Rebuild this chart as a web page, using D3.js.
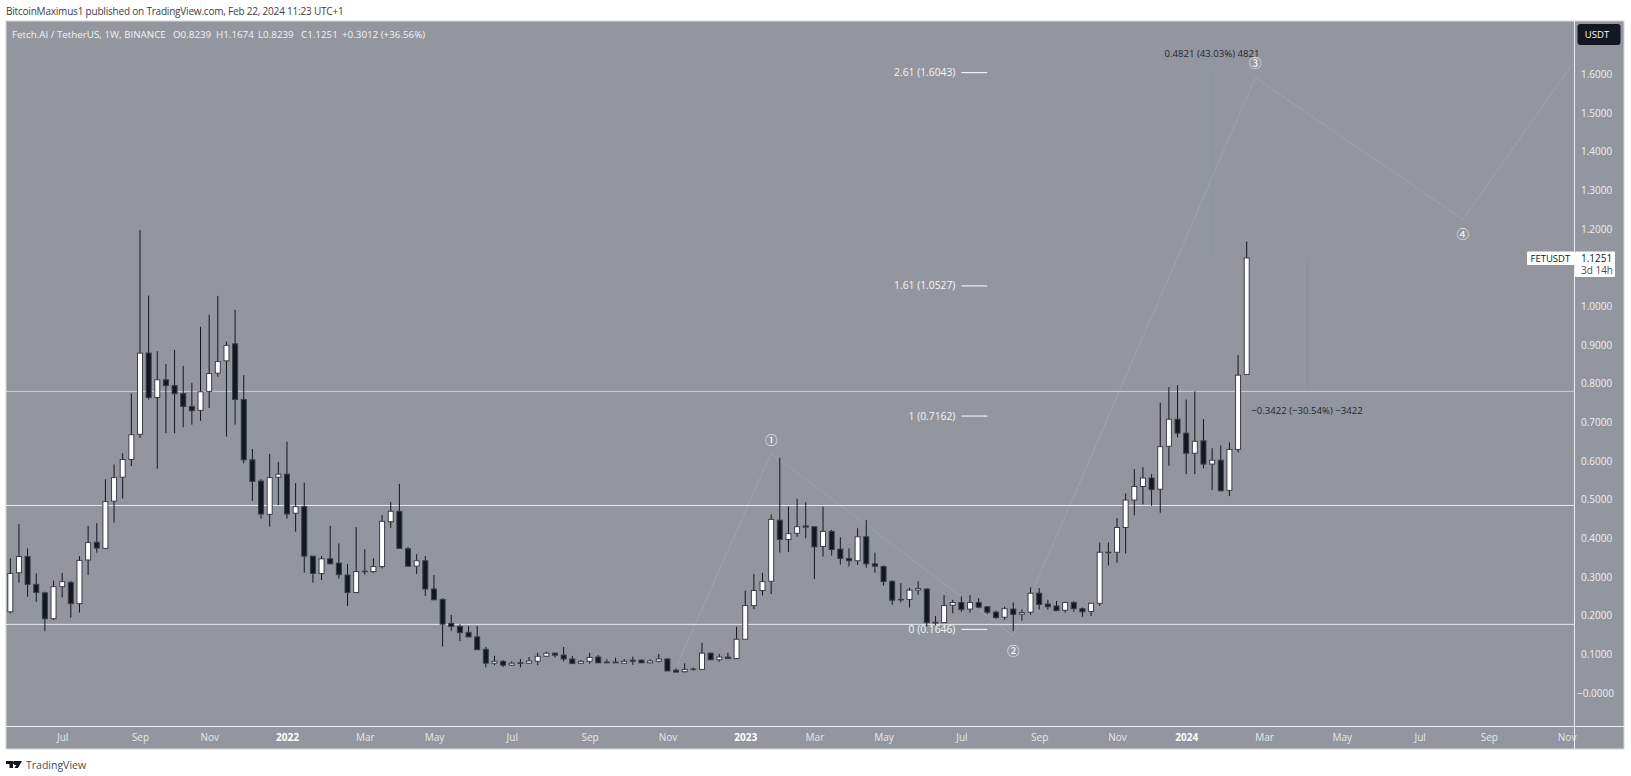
<!DOCTYPE html>
<html>
<head>
<meta charset="utf-8">
<title>FETUSDT</title>
<script src="https://cdn.jsdelivr.net/npm/d3@7"></script>
<style>
  html, body { margin: 0; padding: 0; background: #fff; overflow: hidden; }
  svg { display: block; font-family: "Open Sans", Roboto, sans-serif; }
</style>
</head>
<body>
<svg id="chart" width="1631" height="776"></svg>
<script>
// weekly candles
var opens = [.210,.311,.353,.281,.259,.192,.275,.286,.231,.344,.390,.374,.496,.558,.604,.669,.879,.764,.810,.795,.774,.741,.731,.780,.827,.859,.903,.759,.603,.548,.462,.558,.566,.465,
  .482,.354,.309,.347,.336,.305,.260,.315,.314,.327,.443,.470,.373,.328,.342,.269,.242,.180,.172,.157,.145,.113,.077,.082,.072,.078,.077,.082,.095,.103,.098,.088,.077,.082,.093,.080,.080,.077,.085,.085,.078,.082,.088,.059,.055,.061,.061,.103,.086,.093,.089,
  .139,.226,.265,.289,.447,.397,.413,.432,.430,.379,.418,.372,.348,.342,.404,.334,.327,.289,.242,.242,.266,.269,.181,.182,.227,.234,.217,.234,.223,.209,.196,.217,.204,.209,.258,.230,.225,.214,.234,.218,.211,.232,.364,
  .364,.428,.499,.534,.556,.527,.638,.708,.672,.620,.652,.592,.602,.524,.630,.8239];
var highs = [.348,.437,.374,.309,.262,.291,.311,.290,.354,.432,.439,.553,.591,.620,.775,1.197,1.028,.884,.851,.887,.846,.802,.947,.978,1.027,.909,.991,.822,.631,.553,.618,.597,.650,.543,
  .544,.354,.354,.432,.387,.334,.429,.372,.348,.460,.494,.541,.378,.359,.354,.305,.245,.202,.178,.173,.173,.119,.096,.085,.082,.088,.093,.104,.107,.105,.119,.096,.085,.104,.098,.087,.091,.088,.094,.087,.087,.101,.090,.064,.077,.066,.130,.105,.101,.104,.171,
  .265,.307,.311,.462,.608,.482,.502,.493,.430,.482,.422,.403,.374,.426,.447,.363,.330,.291,.284,.272,.289,.271,.199,.253,.241,.250,.253,.245,.225,.213,.223,.234,.216,.273,.271,.241,.238,.236,.238,.221,.232,.389,.389,
  .452,.516,.579,.584,.566,.751,.791,.796,.759,.780,.708,.633,.640,.648,.874,1.1674];
var lows = [.206,.285,.249,.236,.160,.189,.247,.195,.208,.305,.363,.372,.441,.503,.587,.660,.759,.580,.672,.672,.687,.694,.704,.737,.818,.663,.694,.594,.497,.451,.430,.486,.451,.417,
  .311,.285,.292,.334,.296,.225,.260,.306,.311,.322,.427,.374,.328,.308,.251,.241,.120,.161,.134,.145,.112,.066,.072,.067,.070,.066,.075,.072,.093,.092,.082,.076,.075,.076,.078,.078,.078,.077,.073,.078,.078,.079,.057,.054,.053,.058,.061,.086,.081,.089,.089,
  .139,.217,.252,.256,.363,.365,.404,.400,.295,.353,.355,.332,.327,.331,.324,.311,.278,.228,.234,.221,.254,.172,.176,.182,.206,.210,.208,.219,.204,.192,.189,.160,.187,.202,.216,.216,.213,.208,.210,.197,.199,.225,.330,
  .337,.361,.459,.488,.484,.466,.588,.661,.566,.566,.581,.525,.521,.509,.622,.8239];
var closes = [.309,.353,.281,.260,.192,.275,.288,.231,.343,.389,.375,.495,.557,.604,.668,.879,.764,.810,.795,.774,.741,.730,.779,.826,.857,.899,.759,.603,.547,.463,.557,.566,.463,.482,
  .354,.309,.347,.334,.306,.260,.314,.314,.327,.444,.470,.374,.328,.342,.269,.241,.178,.172,.156,.145,.112,.077,.082,.072,.077,.077,.083,.095,.103,.098,.088,.076,.082,.092,.078,.078,.078,.082,.082,.078,.083,.088,.057,.054,.061,.062,.103,.086,.093,.089,.139,
  .226,.265,.288,.449,.397,.412,.430,.429,.378,.418,.371,.348,.342,.404,.334,.328,.288,.240,.241,.266,.270,.182,.183,.226,.234,.216,.234,.222,.209,.195,.218,.203,.208,.258,.229,.223,.213,.234,.218,.210,.232,.364,.364,
  .428,.499,.534,.556,.526,.637,.708,.672,.620,.651,.592,.602,.523,.630,.822,1.1251];

var priceTicks = [1.6,1.5,1.4,1.3,1.2,1.0,.9,.8,.7,.6,.5,.4,.3,.2,.1,0];
var timeTickIdx = [6,15,23,32,41,49,58,67,76,85,93,101,110,119,128,136,145,154,163,171,180];
var timeTickLabels = ["Jul","Sep","Nov","2022","Mar","May","Jul","Sep","Nov","2023","Mar","May","Jul","Sep","Nov","2024","Mar","May","Jul","Sep","Nov"];

var hLevels = [.780,.485,.1775];
var fibLevels = [2.61,1.61,1,0];
var fibPrices = [1.6043,1.0527,.7162,.1646];
var waveIdx = [77.1,88,116,144,168,181];
var wavePrices = [.071,.620,.148,1.591,1.225,1.637];
var waveMarks = ["①","②","③","④"];

var legendParts = ["Fetch.AI / TetherUS, 1W, BINANCE","O0.8239","H1.1674","L0.8239","C1.1251","+0.3012 (+36.56%)"];
var legendStarts = [12,173,216,258,301,342];

// "top" is taken by window.top, so these all get a plot prefix
var plotLeft = 6, plotRight = 1574.5, plotTop = 21, plotBottom = 726, frameRight = 1624, frameBottom = 749;
var upColor = "#ffffff", downColor = "#131722", borderColor = "#3a3e4a";
var bg = "#93969e";

var svg = d3.select("#chart");

var x = d3.scaleLinear().domain([0,143]).range([10.3,1246.7]);
var y = d3.scaleLinear().domain([0,1.6]).range([693,74.3]);

// panel
svg.append("rect").attr("x",plotLeft).attr("y",plotTop).attr("width",frameRight-plotLeft).attr("height",frameBottom-plotTop)
  .attr("fill",bg).attr("stroke","#d4d6dc").attr("stroke-width",1);

svg.append("clipPath").attr("id","plot").append("rect")
  .attr("x",plotLeft).attr("y",plotTop).attr("width",plotRight-plotLeft).attr("height",plotBottom-plotTop);

var plot = svg.append("g").attr("clip-path","url(#plot)");

// horizontal levels
plot.selectAll(".hlevel").data(hLevels).enter().append("line")
  .attr("x1",plotLeft).attr("x2",plotRight)
  .attr("y1",d => y(d)).attr("y2",d => y(d))
  .attr("stroke","#fff").attr("stroke-opacity",(d,i) => i == 0 ? 0.55 : 0.8).attr("stroke-width",1);

// wave count line
var waveLine = d3.line().x(d => x(d[0])).y(d => y(d[1]));
plot.append("path")
  .attr("d",waveLine(d3.zip(waveIdx,wavePrices)))
  .attr("fill","none").attr("stroke","#fff").attr("stroke-opacity",0.12).attr("stroke-width",1);

// candles
var idx = d3.range(closes.length);
plot.selectAll(".wick").data(idx).enter().append("line")
  .attr("x1",i => x(i)).attr("x2",i => x(i))
  .attr("y1",i => y(highs[i])).attr("y2",i => y(lows[i]))
  .attr("stroke",downColor).attr("stroke-width",1);

plot.selectAll(".body").data(idx).enter().append("rect")
  .attr("x",i => x(i)-2.5).attr("width",5)
  .attr("y",i => y(Math.max(opens[i],closes[i])))
  .attr("height",i => Math.max(0.5,Math.abs(y(opens[i])-y(closes[i]))))
  .attr("fill",i => closes[i] > opens[i] ? upColor : downColor)
  .attr("stroke",borderColor).attr("stroke-width",1);

// fib levels
plot.selectAll(".fib").data(fibPrices).enter().append("line")
  .attr("x1",x(110)).attr("x2",x(113))
  .attr("y1",d => y(d)).attr("y2",d => y(d))
  .attr("stroke","#fff").attr("stroke-width",1);

plot.selectAll(".fibtext").data(fibPrices).enter().append("text")
  .attr("x",x(110)-6).attr("y",d => y(d)+3.5)
  .attr("text-anchor","end").attr("font-size",10.3).attr("fill","#f4f5f7")
  .text((d,i) => fibLevels[i]+" ("+d.toFixed(4)+")");

// wave marks, 1 and 3 sit above the point, 2 and 4 below
plot.selectAll(".mark").data(waveMarks).enter().append("text")
  .attr("x",(d,i) => x(waveIdx[i+1]))
  .attr("y",(d,i) => y(wavePrices[i+1]) + [-8.5,20,-9.4,19.4][i])
  .attr("text-anchor","middle").attr("font-size",12.5).attr("fill","#fff")
  .attr("font-family","'Noto Sans CJK JP'")
  .text(d => d);

// measure tools
plot.append("line").attr("x1",1212.5).attr("x2",1212.5).attr("y1",y(1.6072)).attr("y2",y(1.1251))
  .attr("stroke","#6f9a78").attr("stroke-opacity",0.3).attr("stroke-width",1);
plot.append("line").attr("x1",1307.5).attr("x2",1307.5).attr("y1",y(1.1251)).attr("y2",y(.7829))
  .attr("stroke","#a8767c").attr("stroke-opacity",0.5).attr("stroke-width",1);

plot.append("text").attr("x",1212).attr("y",57).attr("text-anchor","middle")
  .attr("font-size",9.6).attr("fill","#23262e").text("0.4821 (43.03%) 4821");
plot.append("text").attr("x",1307).attr("y",414).attr("text-anchor","middle")
  .attr("font-size",9.6).attr("fill","#23262e").text("\u22120.3422 (\u221230.54%) \u22123422");

// axis separators
svg.append("line").attr("x1",plotRight).attr("x2",plotRight).attr("y1",plotTop).attr("y2",frameBottom)
  .attr("stroke","#eceef1").attr("stroke-width",1);
svg.append("line").attr("x1",plotLeft).attr("x2",frameRight).attr("y1",plotBottom+0.5).attr("y2",plotBottom+0.5)
  .attr("stroke","#eceef1").attr("stroke-width",1);

// price axis
var yAxis = d3.axisRight(y).tickValues(priceTicks).tickSize(0).tickPadding(0)
  .tickFormat(d => d == 0 ? "\u22120.0000" : d.toFixed(4));
var yG = svg.append("g").attr("transform","translate(1581,0)").call(yAxis);
yG.select(".domain").remove();
yG.selectAll("text").attr("font-size",10).attr("font-family","'Open Sans'").attr("fill","#eef0f3")
  .attr("x",d => d == 0 ? -4 : 0);

// time axis
var xAxis = d3.axisBottom(x).tickValues(timeTickIdx).tickSize(0).tickPadding(0)
  .tickFormat((d,i) => timeTickLabels[i]);
var xG = svg.append("g").attr("transform","translate(0,734)").call(xAxis);
xG.select(".domain").remove();
xG.selectAll("text").attr("font-size",10).attr("font-family","'Open Sans'")
  .attr("fill",(d,i) => /^\d/.test(timeTickLabels[i]) ? "#ffffff" : "#e6e8ec")
  .attr("font-weight",(d,i) => /^\d/.test(timeTickLabels[i]) ? 700 : 400);

// currency badge
svg.append("rect").attr("x",1577.5).attr("y",24).attr("width",43).attr("height",21).attr("rx",3)
  .attr("fill",downColor);
svg.append("text").attr("x",1597).attr("y",38).attr("text-anchor","middle")
  .attr("font-size",9.5).attr("fill","#fff").text("USDT");

// last price tag
svg.append("rect").attr("x",1527).attr("y",251.5).attr("width",48).attr("height",13.5).attr("fill","#fff").attr("rx",1);
svg.append("rect").attr("x",1575).attr("y",251.5).attr("width",40).attr("height",25.5).attr("fill","#fff").attr("rx",1);
svg.append("text").attr("x",1530.5).attr("y",261.5).attr("font-size",9.5).attr("fill","#131722").text("FETUSDT");
svg.append("text").attr("x",1581).attr("y",261.5).attr("font-size",10).attr("fill","#131722").text("1.1251");
svg.append("text").attr("x",1581).attr("y",274).attr("font-size",10).attr("fill","#4a4e5a").text("3d 14h");

// header
svg.append("text").attr("x",6).attr("y",15).attr("font-size",10).attr("letter-spacing",-0.2).attr("fill","#3d4049")
  .text("BitcoinMaximus1 published on TradingView.com, Feb 22, 2024 11:23 UTC+1");

// legend
svg.selectAll(".legend").data(legendParts).enter().append("text")
  .attr("x",(d,i) => legendStarts[i]).attr("y",37.5)
  .attr("font-size",9.8).attr("fill","#f2f3f5")
  .text(d => d);

// footer logo and name
svg.append("path")
  .attr("d","M6 761h7v7h-3.5v-4H6zM14 761h8l-4 7h-3.5l2-3.5a1.7 1.7 0 0 1-2.500-3.500z")
  .attr("fill","#131722");
svg.append("text").attr("x",26).attr("y",769).attr("font-size",10.5).attr("fill","#4a4e5a").text("TradingView");
</script>
</body>
</html>
